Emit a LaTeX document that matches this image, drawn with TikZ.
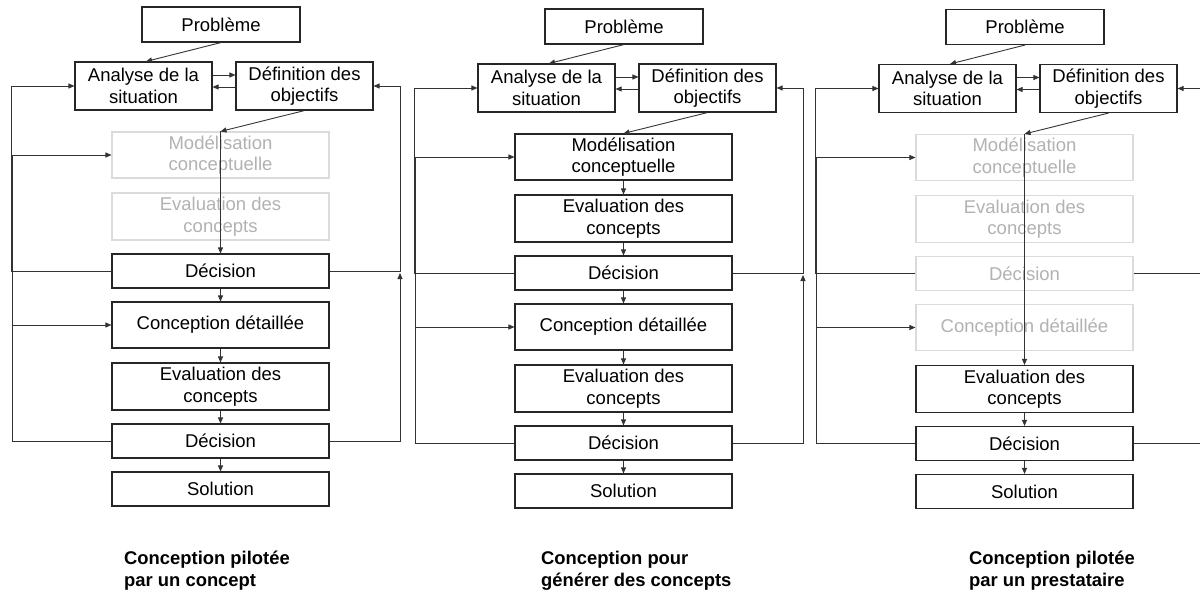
\documentclass[tikz,border=0pt]{standalone}
\usepackage{fontspec}
\setmainfont{Liberation Sans}
\usetikzlibrary{arrows.meta,calc}
\tikzset{
  bx/.style={draw=black!85, line width=1.1pt, fill=white, inner sep=0pt, align=center,
    font=\fontsize{18.5}{21.5}\selectfont, text=black},
  gbx/.style={bx, draw=black!14, text=black!30},
  wide/.style={minimum width=217pt},
  ln/.style={draw=black!80, line width=0.9pt},
  ar/.style={ln, -{Triangle[length=6pt,width=5pt]}},
  captxt/.style={align=left, inner sep=0pt, font=\fontsize{18.4}{22}\selectfont\bfseries, text=black}
}
\newcommand\mkpanel[7]{%
\begin{scope}[shift={(#2,#3)}]
\node[bx,minimum width=158pt,minimum height=35pt] (#1prob) at (221,24.5) {Problème};
\node[bx,minimum width=137pt,minimum height=48pt] (#1ana) at (143.5,86) {Analyse de la\\situation};
\node[bx,minimum width=137pt,minimum height=48pt] (#1def) at (304.5,86) {Définition des\\objectifs};
\node[#4,wide,minimum height=46pt] (#1mod) at (220.5,155) {Modélisation\\conceptuelle};
\node[#5,wide,minimum height=47pt] (#1ev1) at (220.5,216.5) {Evaluation des\\concepts};
\node[#6,wide,minimum height=34pt] (#1d1) at (220.5,271) {Décision};
\node[#7,wide,minimum height=46pt] (#1conc) at (220.5,325) {Conception détaillée};
\node[bx,wide,minimum height=47pt] (#1ev2) at (220.5,386.5) {Evaluation des\\concepts};
\node[bx,wide,minimum height=34pt] (#1d2) at (220.5,441) {Décision};
\node[bx,wide,minimum height=34pt] (#1sol) at (220.5,489) {Solution};
\coordinate (#1XL) at (11,86);
\coordinate (#1XLb) at (12,155);
\coordinate (#1XLc) at (12,325);
\coordinate (#1XR) at (400,86);
\coordinate (#1XRb) at (400,273);
\end{scope}
\draw[ar] (#1prob.south) -- ([xshift=2.5pt]#1ana.north);
\draw[ar] ([yshift=11pt]#1ana.east) -- ([yshift=11pt]#1def.west);
\draw[ar] ([yshift=-1pt]#1def.west) -- ([yshift=-1pt]#1ana.east);
\draw[ar] (#1d1.west) -| (#1XL) -- (#1ana.west);
\draw[ar] (#1d2.west) -| (#1XLb) -- (#1mod.west);
\draw[ar] (#1XLc) -- (#1conc.west);
\draw[ar] (#1d1.east) -| (#1XR) -- (#1def.east);
\draw[ar] (#1d2.east) -| (#1XRb);
\draw[ar] (#1def.south) -- (#1mod.north);
\draw[ar] (#1ev2.south) -- (#1d2.north);
\draw[ar] (#1d2.south) -- (#1sol.north);
}
\begin{document}
\begin{tikzpicture}[x=1pt,y=-1pt]
\useasboundingbox[fill=white] (0,0) rectangle (1200,594);
% panel 1: piloted by a concept
\mkpanel{a}{0}{0}{gbx}{gbx}{bx}{bx}
\draw[ar] (amod.north) -- (ad1.north);
\draw[ar] (ad1.south) -- (aconc.north);
\draw[ar] (aconc.south) -- (aev2.north);
\node[captxt,anchor=north west] (acap) at (124,551) {Conception pilotée\\par un concept};
% panel 2: generating concepts
\mkpanel{b}{403}{2}{bx}{bx}{bx}{bx}
\draw[ar] (bmod.south) -- (bev1.north);
\draw[ar] (bev1.south) -- (bd1.north);
\draw[ar] (bd1.south) -- (bconc.north);
\draw[ar] (bconc.south) -- (bev2.north);
\node[captxt,anchor=north west] (bcap) at (541,551) {Conception pour\\générer des concepts};
% panel 3: piloted by a contractor
\mkpanel{c}{804}{2.5}{gbx}{gbx}{gbx}{gbx}
\draw[ar] (cmod.north) -- (cev2.north);
\node[captxt,anchor=north west] (ccap) at (969,551) {Conception pilotée\\par un prestataire};
\end{tikzpicture}
\end{document}
